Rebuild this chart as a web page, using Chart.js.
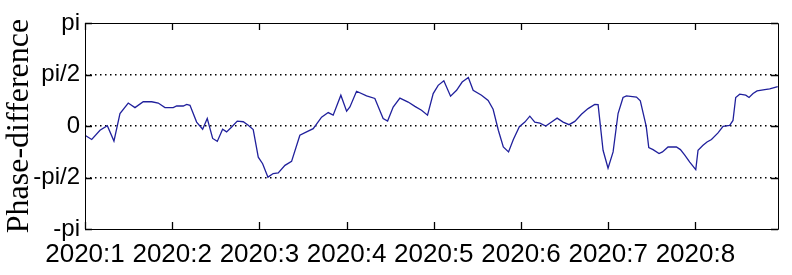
<!DOCTYPE html>
<html>
<head>
<meta charset="utf-8">
<script src="https://cdn.jsdelivr.net/npm/chart.js@4/dist/chart.umd.min.js"></script>
<style>
  html, body { margin: 0; padding: 0; background: #ffffff; }
  #wrap { width: 792px; height: 275px; }
</style>
</head>
<body>
<div id="wrap"><canvas id="c" width="792" height="275"></canvas></div>
<script>
// ---- data (x in month units: 1 = 2020:1; y = phase difference in radians) ----
const monthPos = [1.000,1.077,1.172,1.256,1.332,1.401,1.496,1.573,1.668,1.765,1.840,1.917,2.012,2.051,2.127,2.166,2.204,2.280,2.349,2.402,2.464,2.517,2.578,2.624,2.682,2.746,2.815,2.872,2.929,2.987,3.037,3.098,3.158,3.216,3.293,3.369,3.464,3.541,3.617,3.713,3.789,3.846,3.934,4.000,4.038,4.114,4.229,4.324,4.419,4.470,4.534,4.611,4.706,4.783,4.859,4.928,4.993,5.050,5.115,5.192,5.261,5.325,5.396,5.451,5.547,5.623,5.680,5.740,5.797,5.857,5.912,5.981,6.044,6.101,6.158,6.216,6.284,6.350,6.414,6.483,6.551,6.617,6.693,6.769,6.846,6.884,6.941,6.998,7.056,7.113,7.170,7.209,7.324,7.368,7.436,7.465,7.514,7.583,7.622,7.686,7.782,7.828,7.878,7.935,8.004,8.030,8.087,8.133,8.184,8.259,8.317,8.393,8.431,8.462,8.508,8.577,8.615,8.661,8.707,8.795,8.852,8.944];
const phaseDiff = [-0.28,-0.41,-0.13,0.01,-0.46,0.38,0.70,0.56,0.74,0.74,0.70,0.56,0.56,0.61,0.61,0.66,0.63,0.12,-0.10,0.23,-0.38,-0.47,-0.10,-0.18,-0.03,0.15,0.13,0.02,-0.11,-0.95,-1.15,-1.56,-1.45,-1.43,-1.20,-1.08,-0.28,-0.18,-0.08,0.27,0.41,0.33,0.94,0.45,0.58,1.06,0.92,0.84,0.23,0.15,0.58,0.85,0.73,0.60,0.48,0.33,0.99,1.24,1.38,0.91,1.09,1.34,1.48,1.09,0.94,0.78,0.51,-0.13,-0.64,-0.79,-0.41,-0.02,0.12,0.30,0.12,0.09,0.00,0.12,0.24,0.12,0.04,0.14,0.36,0.53,0.66,0.65,-0.74,-1.29,-0.79,0.38,0.87,0.92,0.88,0.77,-0.01,-0.66,-0.72,-0.84,-0.79,-0.64,-0.64,-0.72,-0.89,-1.10,-1.33,-0.74,-0.59,-0.49,-0.41,-0.21,-0.01,0.02,0.17,0.87,0.97,0.94,0.87,0.99,1.07,1.11,1.13,1.20];
const xTickValues = [1, 2, 3, 4, 5, 6, 7, 8];
const xTickLabels = ['2020:1', '2020:2', '2020:3', '2020:4', '2020:5', '2020:6', '2020:7', '2020:8'];
const xMin = 1;
const xMax = 8.947;
const yTickValues = [-Math.PI, -Math.PI / 2, 0, Math.PI / 2, Math.PI];
const yTickLabels = ['-pi', '-pi/2', '0', 'pi/2', 'pi'];
const yTitle = 'Phase-difference';

const points = monthPos.map((x, i) => ({ x: x, y: phaseDiff[i] }));
const sans = "'Liberation Sans', Arial, sans-serif";

const frameAndTicks = {
  id: 'frameAndTicks',
  afterDraw(chart) {
    const { ctx, chartArea: a, scales } = chart;
    const L = 7;
    ctx.save();
    ctx.strokeStyle = '#000000';
    ctx.lineWidth = 1;
    ctx.beginPath();
    ctx.rect(Math.round(a.left) + 0.5, Math.round(a.top) + 0.5,
             Math.round(a.right - a.left), Math.round(a.bottom - a.top));
    ctx.stroke();
    ctx.beginPath();
    scales.x.ticks.forEach(t => {
      const px = Math.round(scales.x.getPixelForValue(t.value)) + 0.5;
      ctx.moveTo(px, a.bottom); ctx.lineTo(px, a.bottom - L);
      ctx.moveTo(px, a.top); ctx.lineTo(px, a.top + L);
    });
    scales.y.ticks.forEach(t => {
      const py = Math.round(scales.y.getPixelForValue(t.value)) + 0.5;
      ctx.moveTo(a.left, py); ctx.lineTo(a.left + L, py);
      ctx.moveTo(a.right, py); ctx.lineTo(a.right - L, py);
    });
    ctx.lineWidth = 1.3;
    ctx.stroke();
    ctx.restore();
  }
};

new Chart(document.getElementById('c'), {
  type: 'line',
  data: {
    datasets: [{
      data: points,
      borderColor: '#20209c',
      borderWidth: 1.3,
      pointRadius: 0,
      tension: 0,
      fill: false
    }]
  },
  options: {
    responsive: false,
    animation: false,
    devicePixelRatio: 1,
    parsing: false,
    layout: { padding: { top: 23, right: 14, bottom: 0, left: 0 } },
    plugins: { legend: { display: false }, tooltip: { enabled: false } },
    scales: {
      x: {
        type: 'linear',
        min: xMin,
        max: xMax,
        afterBuildTicks: s => { s.ticks = xTickValues.map(v => ({ value: v })); },
        afterFit: s => { s.height = 46; },
        grid: { display: false, drawTicks: false },
        border: { display: false },
        ticks: {
          autoSkip: false,
          maxRotation: 0,
          padding: 10,
          color: '#000000',
          font: { family: sans, size: 26 },
          callback: v => xTickLabels[xTickValues.indexOf(v)]
        }
      },
      y: {
        type: 'linear',
        min: -Math.PI,
        max: Math.PI,
        afterBuildTicks: s => { s.ticks = yTickValues.map(v => ({ value: v })); },
        afterFit: s => { s.width = 85; },
        grid: {
          drawTicks: false,
          lineWidth: 1.5,
          color: c => (Math.abs(Math.abs(c.tick.value) - Math.PI) < 1e-6) ? 'rgba(0,0,0,0)' : '#000000'
        },
        border: { display: false, dash: [1.5, 3.5] },
        ticks: {
          autoSkip: false,
          padding: 5,
          color: '#000000',
          font: { family: sans, size: 24 },
          callback: (v, i) => yTickLabels[i]
        },
        title: {
          display: true,
          text: yTitle,
          color: '#000000',
          padding: { top: 0, bottom: 0 },
          font: { family: "'Liberation Serif', 'Times New Roman', serif", size: 32 }
        }
      }
    }
  },
  plugins: [frameAndTicks]
});
</script>
</body>
</html>
